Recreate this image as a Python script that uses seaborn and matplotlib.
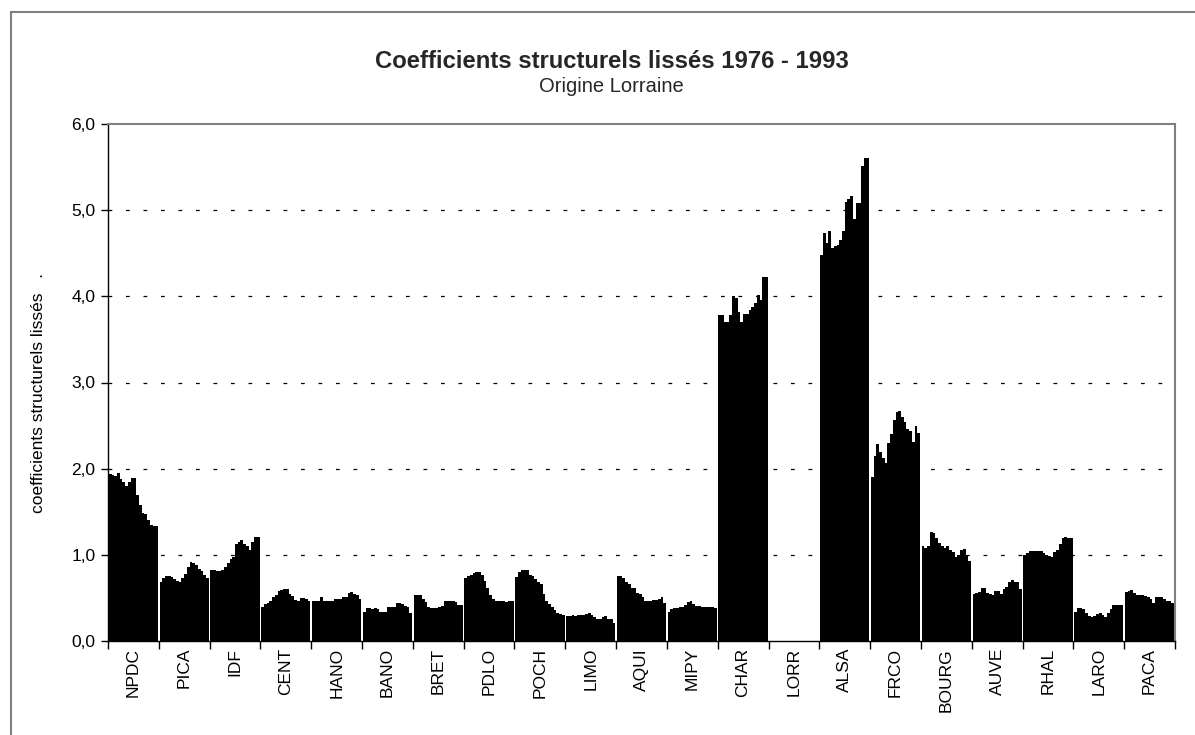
import numpy as np
import pandas as pd
import matplotlib
matplotlib.use("Agg")
import matplotlib.pyplot as plt
import seaborn as sns
from matplotlib.patches import Rectangle

# Data: smoothed structural coefficients, origin Lorraine, 1976-1993
years = list(range(1976, 1994))
regions = ["NPDC", "PICA", "IDF", "CENT", "HANO", "BANO", "BRET", "PDLO", "POCH", "LIMO", "AQUI",
           "MIPY", "CHAR", "LORR", "ALSA", "FRCO", "BOURG", "AUVE", "RHAL", "LARO", "PACA"]

npdc = [1.94, 1.93, 1.91, 1.95, 1.88, 1.85, 1.80, 1.84, 1.89, 1.89, 1.69, 1.58, 1.49, 1.47, 1.40, 1.35, 1.33, 1.33]
pica = [0.69, 0.73, 0.75, 0.75, 0.74, 0.72, 0.70, 0.69, 0.73, 0.78, 0.86, 0.92, 0.91, 0.88, 0.83, 0.81, 0.77, 0.73]
idf = [0.82, 0.82, 0.81, 0.81, 0.82, 0.86, 0.90, 0.95, 0.98, 1.12, 1.15, 1.17, 1.12, 1.10, 1.06, 1.15, 1.21, 1.21]
cent = [0.40, 0.43, 0.44, 0.47, 0.51, 0.53, 0.58, 0.59, 0.60, 0.60, 0.55, 0.52, 0.48, 0.47, 0.50, 0.50, 0.49, 0.46]
hano = [0.46, 0.46, 0.47, 0.51, 0.47, 0.47, 0.47, 0.47, 0.49, 0.49, 0.49, 0.51, 0.51, 0.56, 0.57, 0.54, 0.53, 0.49]
bano = [0.34, 0.38, 0.38, 0.37, 0.38, 0.37, 0.34, 0.34, 0.34, 0.40, 0.40, 0.40, 0.44, 0.44, 0.43, 0.41, 0.39, 0.33]
bret = [0.53, 0.53, 0.53, 0.49, 0.45, 0.40, 0.38, 0.38, 0.38, 0.40, 0.41, 0.47, 0.47, 0.47, 0.46, 0.45, 0.42, 0.42]
pdlo = [0.73, 0.76, 0.77, 0.79, 0.80, 0.80, 0.77, 0.70, 0.62, 0.53, 0.49, 0.47, 0.47, 0.47, 0.46, 0.45, 0.46, 0.46]
poch = [0.74, 0.80, 0.82, 0.82, 0.82, 0.77, 0.75, 0.72, 0.69, 0.66, 0.55, 0.47, 0.43, 0.39, 0.36, 0.32, 0.31, 0.30]
limo = [0.29, 0.29, 0.30, 0.29, 0.30, 0.30, 0.30, 0.31, 0.32, 0.30, 0.28, 0.25, 0.26, 0.28, 0.29, 0.26, 0.25, 0.21]
aqui = [0.75, 0.76, 0.73, 0.68, 0.66, 0.62, 0.62, 0.56, 0.54, 0.51, 0.46, 0.47, 0.47, 0.48, 0.48, 0.49, 0.51, 0.44]
mipy = [0.34, 0.37, 0.38, 0.38, 0.39, 0.40, 0.42, 0.45, 0.46, 0.43, 0.41, 0.41, 0.40, 0.40, 0.40, 0.40, 0.40, 0.38]
char = [3.78, 3.78, 3.70, 3.70, 3.78, 4.00, 3.98, 3.82, 3.70, 3.80, 3.80, 3.84, 3.88, 3.92, 4.02, 3.96, 4.23, 4.23]
lorr = [0.0, 0.0, 0.0, 0.0, 0.0, 0.0, 0.0, 0.0, 0.0, 0.0, 0.0, 0.0, 0.0, 0.0, 0.0, 0.0, 0.0, 0.0]
alsa = [4.48, 4.73, 4.62, 4.76, 4.56, 4.58, 4.60, 4.65, 4.76, 5.09, 5.13, 5.17, 4.90, 5.08, 5.08, 5.51, 5.60, 5.60]
frco = [1.90, 2.15, 2.29, 2.19, 2.12, 2.06, 2.30, 2.40, 2.56, 2.66, 2.67, 2.60, 2.54, 2.46, 2.44, 2.31, 2.50, 2.41]
bourg = [1.10, 1.08, 1.10, 1.27, 1.25, 1.20, 1.14, 1.10, 1.08, 1.10, 1.06, 1.03, 0.98, 1.00, 1.06, 1.07, 1.00, 0.93]
auve = [0.54, 0.56, 0.57, 0.62, 0.62, 0.56, 0.54, 0.53, 0.58, 0.58, 0.55, 0.60, 0.63, 0.68, 0.71, 0.69, 0.69, 0.60]
rhal = [1.00, 1.02, 1.04, 1.04, 1.04, 1.05, 1.04, 1.02, 1.00, 0.99, 0.98, 1.03, 1.06, 1.13, 1.20, 1.21, 1.20, 1.19]
laro = [0.34, 0.38, 0.38, 0.37, 0.33, 0.29, 0.28, 0.29, 0.31, 0.32, 0.30, 0.28, 0.33, 0.37, 0.42, 0.42, 0.42, 0.42]
paca = [0.57, 0.58, 0.59, 0.56, 0.53, 0.53, 0.53, 0.52, 0.51, 0.49, 0.44, 0.51, 0.51, 0.51, 0.49, 0.47, 0.46, 0.44]

series = [npdc, pica, idf, cent, hano, bano, bret, pdlo, poch, limo, aqui,
          mipy, char, lorr, alsa, frco, bourg, auve, rhal, laro, paca]

rows = []
for reg, vals in zip(regions, series):
    for yr, v in zip(years, vals):
        rows.append({"region": reg, "year": str(yr), "value": v})
df = pd.DataFrame(rows)

sns.set_theme(style="white")
plt.rcParams['font.family'] = ['Liberation Sans', 'DejaVu Sans']

W, H = 1195, 735
fig = plt.figure(figsize=(W / 100, H / 100), dpi=100)
ax = fig.add_axes([108 / W, 1 - 641 / H, (1175 - 108) / W, (641 - 124) / H])

sns.barplot(data=df, x="region", y="value", hue="year", order=regions,
            hue_order=[str(y) for y in years], palette=["black"] * len(years),
            width=0.97, dodge=True, legend=False, errorbar=None,
            linewidth=0, saturation=1, ax=ax, zorder=2)

# dashed gridlines
for yv in range(1, 6):
    ax.axhline(yv, color="black", lw=0.9, ls=(0, (3, 11)), zorder=1)

ax.set_ylim(0, 6)
ax.set_xlim(-0.5, len(regions) - 0.5)
ax.set_yticks(range(7))
ax.set_yticklabels([f"{v:.1f}".replace(".", ",") for v in range(7)])
ax.tick_params(axis="y", left=True, direction="out", length=5, width=1,
               color="black", labelsize=12.5, pad=4, labelcolor="black")

ax.set_xticks(range(len(regions)))
ax.set_xticklabels(regions)
ax.set_xticks(np.arange(-0.5, len(regions), 1), minor=True)
ax.tick_params(axis="x", which="major", length=0, pad=5, labelrotation=90,
               labelsize=12.5, labelcolor="black")
ax.tick_params(axis="x", which="minor", bottom=True, direction="out",
               length=6, width=1, color="black")

for side in ["top", "right"]:
    ax.spines[side].set_color("#808080")
    ax.spines[side].set_linewidth(1.5)
for side in ["left", "bottom"]:
    ax.spines[side].set_color("black")
    ax.spines[side].set_linewidth(1.0)

ax.set_xlabel("")
ax.set_ylabel("coefficients structurels lissés   .", fontsize=12.5, color="black")
ax.yaxis.set_label_coords(-0.058, 0.48)

fig.text(612 / W, 1 - 61 / H, "Coefficients structurels lissés 1976 - 1993",
         ha="center", va="center", fontsize=17.2, fontweight="bold")
fig.text(611 / W, 1 - 86 / H, "Origine Lorraine", ha="center", va="center", fontsize=14.5)

# outer chart frame
fig.add_artist(Rectangle((11 / W, -0.1), 1.2, 1 - 12 / H + 0.1, transform=fig.transFigure,
                         fill=False, edgecolor="#808080", lw=1.5))

fig.savefig("out.png", dpi=100)
